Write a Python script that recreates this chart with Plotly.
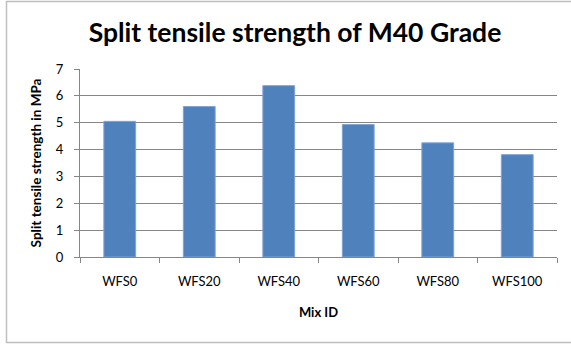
import plotly.graph_objects as go

categories = ["WFS0", "WFS20", "WFS40", "WFS60", "WFS80", "WFS100"]
strength = [5.05, 5.6, 6.38, 4.93, 4.25, 3.81]
y_ticks = [0, 1, 2, 3, 4, 5, 6, 7]

W, H = 571, 345
L, R, T, B = 80, 14, 69, 88
pw, ph = W - L - R, H - T - B

FONT = "Lato"

fig = go.Figure(go.Bar(
    x=categories, y=strength, width=0.4,
    marker=dict(color="#4F81BD", line=dict(color="#7FA3D3", width=1)),
))

fig.update_layout(
    width=W, height=H,
    margin=dict(l=L, r=R, t=T, b=B),
    paper_bgcolor="white", plot_bgcolor="white",
    showlegend=False,
    font=dict(family=FONT, color="#000000"),
    title=dict(text="<b>Split tensile strength of M40 Grade</b>",
               x=295 / W, xanchor="center", y=1 - 33 / H, yanchor="middle",
               font=dict(size=26.5, family=FONT, color="#000000")),
    bargap=0.6,
)

fig.update_xaxes(
    type="category", showgrid=False, showline=True, linecolor="#868686", linewidth=1,
    ticks="outside", tickson="boundaries", ticklen=5, tickcolor="#868686",
    ticklabelstandoff=12,
    tickfont=dict(size=13, family=FONT, color="#000000"),
    title=dict(text="<b>Mix ID</b>", font=dict(size=13, family=FONT, color="#000000"), standoff=20),
)
fig.update_yaxes(
    range=[0, 7], tickvals=y_ticks, showgrid=True, gridcolor="#868686", gridwidth=1,
    showline=True, linecolor="#868686", linewidth=1, zeroline=False,
    ticks="outside", ticklen=5, tickcolor="#868686",
    ticklabelstandoff=8,
    tickfont=dict(size=13, family=FONT, color="#000000"),
    title=dict(text="<b>Split tensile strength in MPa</b>", font=dict(size=13.5, family=FONT, color="#000000"), standoff=11),
)

# outer chart border
fig.add_shape(type="rect", xref="paper", yref="paper",
              x0=(6.5 - L) / pw, x1=(575 - L) / pw,
              y0=(H - B - 342.5) / ph, y1=(H - B - 1.5) / ph,
              line=dict(color="#BFBFBF", width=1.5), fillcolor="rgba(0,0,0,0)", layer="below")

fig.write_html("out.html", config={"displayModeBar": False},
               post_script="document.body.style.margin='0';document.body.style.overflow='hidden';")
